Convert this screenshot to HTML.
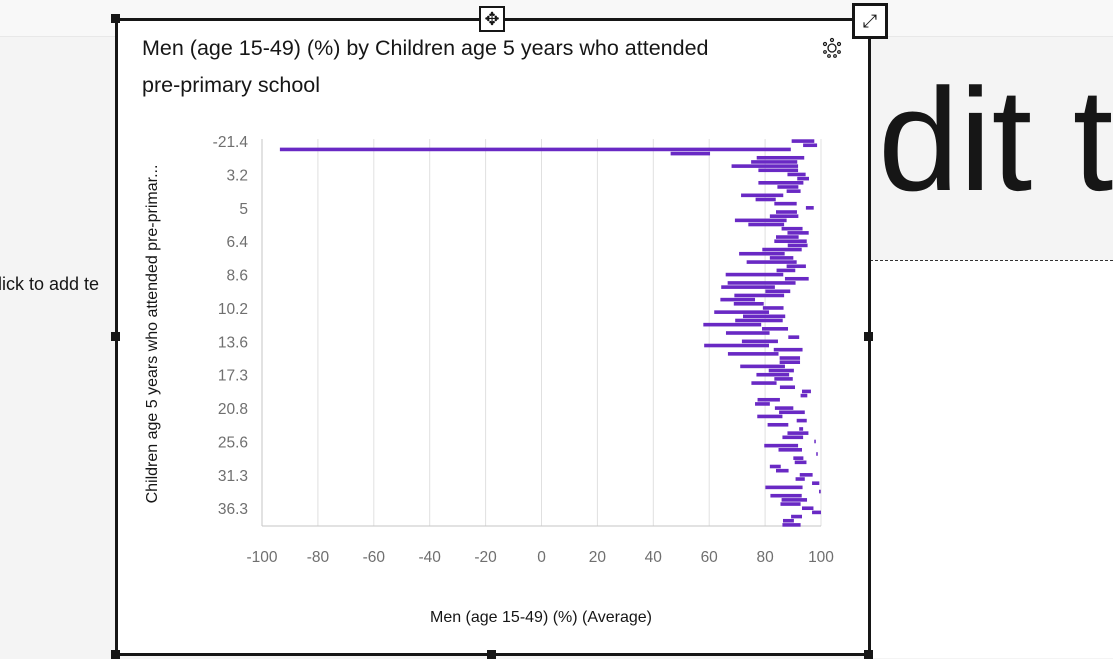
<!DOCTYPE html>
<html><head><meta charset="utf-8"><style>
body{margin:0;width:1113px;height:657px;overflow:hidden;background:#f4f4f4;font-family:"Liberation Sans",sans-serif;position:relative}
.abs{position:absolute}
.h{position:absolute;width:9px;height:9px;background:#161616}
</style></head><body>
<div class="abs" style="left:0;top:0;width:1113px;height:36px;background:#f8f8f8;border-bottom:1px solid #e8e8e8"></div>
<div class="abs" style="left:870px;top:260px;width:243px;height:397px;background:#fff;border-top:1px dashed #333"></div>
<div class="abs" style="left:878px;top:50px;font-size:146px;color:#161616;line-height:180px;white-space:nowrap">dit t</div>
<div class="abs" style="left:-2px;top:274px;font-size:18px;color:#161616;white-space:nowrap">lick to add te</div>
<div class="abs" style="left:115px;top:18px;width:750px;height:632px;background:#fff;border:3px solid #161616"></div>
<div class="h" style="left:111px;top:14px"></div>
<div class="h" style="left:111px;top:332px"></div>
<div class="h" style="left:864px;top:332px"></div>
<div class="h" style="left:111px;top:650px"></div>
<div class="h" style="left:487px;top:650px"></div>
<div class="h" style="left:864px;top:650px"></div>
<div class="abs" style="left:479px;top:6px;width:22px;height:22px;background:#fff;border:2px solid #161616;font-size:18px;line-height:22px;text-align:center;color:#161616">✥</div>
<div class="abs" style="left:852px;top:3px;width:30px;height:30px;background:#fff;border:3px solid #161616;font-size:18px;line-height:30px;text-align:center;color:#161616">⤢</div>
<div class="abs" style="left:142px;top:30px;width:660px;font-size:21.5px;line-height:37px;color:#161616">Men (age 15-49) (%) by Children age 5 years who attended <span style="white-space:nowrap">pre-primary</span> school</div>
<svg class="abs" style="left:820px;top:36px" width="24" height="24" viewBox="0 0 24 24">
<circle cx="12" cy="12" r="4" fill="none" stroke="#161616" stroke-width="1.3"/>
<g fill="none" stroke="#161616" stroke-width="1.2"><circle cx="12" cy="4" r="1.5"/><circle cx="5" cy="8" r="1.5"/><circle cx="19" cy="8" r="1.5"/><circle cx="5" cy="16" r="1.3"/><circle cx="19" cy="16" r="1.3"/><circle cx="9" cy="20" r="1.3"/><circle cx="15" cy="20" r="1.3"/></g></svg>
<svg id="chart" class="abs" style="left:0;top:0" width="1113" height="657"></svg>
<script>
const tickLabels=["-21.4","3.2","5","6.4","8.6","10.2","13.6","17.3","20.8","25.6","31.3","36.3"];
const xTicks=[-100,-80,-60,-40,-20,0,20,40,60,80,100];
const lowValues=[89.5,93.6,-93.6,46.2,77,75,68,77.6,88,91.5,77.6,84.4,87.7,71.4,76.6,83.3,94.6,83.9,81.7,69.2,74,85.9,88,83.9,83.3,88.1,79,70.7,81.7,73.4,
87.7,84.1,65.9,87.1,66.6,64.3,80.1,69,64,68.8,79.2,61.8,72.1,69.3,57.9,78.9,66,88.3,71.7,58.2,83.1,66.7,85.2,85.2,71.1,81.3,76.9,83.3,75.1,85.3,93.2,92.7,
77.3,76.4,83.5,85,77.2,91.3,80.9,92.2,88,86.2,97.6,79.7,84.8,98.3,90.1,90.6,81.7,83.9,92.4,90.9,96.8,80.1,99.3,81.9,85.9,85.5,93.2,96.8,89.3,86.4,86.2];
const highValues=[97.6,98.6,89.2,60.3,94,91.5,91.8,91.8,94.5,95.7,93.7,91.9,92.7,86.5,83.8,91.3,97.4,91.4,91.9,87.7,86.8,93.4,95.6,92,94.9,95.2,93.1,87,90.1,91.3,
94.6,90.8,86.5,95.6,90.9,83.5,89,86.8,76.4,79.5,86.6,81.4,87.2,86.3,78.6,88.2,81.6,92.2,84.6,81.4,93.4,84.8,92.5,92.5,87.1,90.3,88.6,89.9,84.1,90.7,96.4,95.1,
85.3,81.7,90.1,94.2,86.2,94.9,88.3,93.6,95.5,93.6,98.1,91.8,93.2,98.8,93.7,94.8,85.6,88.4,97,94.2,99.4,93.4,99.9,93.1,95,92.7,97.3,100,93.2,90.3,92.7];
const svg=document.getElementById('chart');const NS='http://www.w3.org/2000/svg';
const X0=262,X1=821,Y0=139,Y1=527;
const n=lowValues.length,band=(Y1-Y0)/n;
const xs=v=>X0+(v+100)/200*(X1-X0);
const yc=i=>Y0+band*(i+0.5);
function mk(t,a){const e=document.createElementNS(NS,t);for(const k in a)e.setAttribute(k,a[k]);svg.appendChild(e);return e;}
xTicks.forEach(v=>{
 const g=mk('line',{x1:xs(v),x2:xs(v),y1:Y0,y2:526,stroke:'#e0e0e0','stroke-width':1});
 
 
 const t=mk('text',{x:xs(v),y:562,'text-anchor':'middle','font-size':15.5,fill:'#6f6f6f','font-family':'Liberation Sans'});
 t.textContent=v;
 
 
});
const ax=mk('line',{x1:X0,x2:X0,y1:Y0,y2:526,stroke:'#c6c6c6','stroke-width':1});


const bx=mk('line',{x1:X0,x2:X1,y1:526,y2:526,stroke:'#c6c6c6','stroke-width':1});


tickLabels.forEach((l,k)=>{
 const t=mk('text',{x:248,y:yc(k*8)+6,'text-anchor':'end','font-size':15.5,fill:'#6f6f6f','font-family':'Liberation Sans'});
 t.textContent=l;
 
 
});
for(let i=0;i<n;i++){
 const a=xs(lowValues[i]),b=xs(highValues[i]);
 const r=mk('rect',{x:a,y:yc(i)-1.8,width:Math.max(1.5,b-a),height:3.6,fill:'#6929c4'});
 
 
}
const yt=mk('text',{x:0,y:0,'text-anchor':'middle','font-size':16,fill:'#161616','font-family':'Liberation Sans',transform:'translate(157,334) rotate(-90)'});
yt.textContent='Children age 5 years who attended pre-primar...';


const xt=mk('text',{x:541,y:622,'text-anchor':'middle','font-size':16,fill:'#161616','font-family':'Liberation Sans'});
xt.textContent='Men (age 15-49) (%) (Average)';


</script>
</body></html>
